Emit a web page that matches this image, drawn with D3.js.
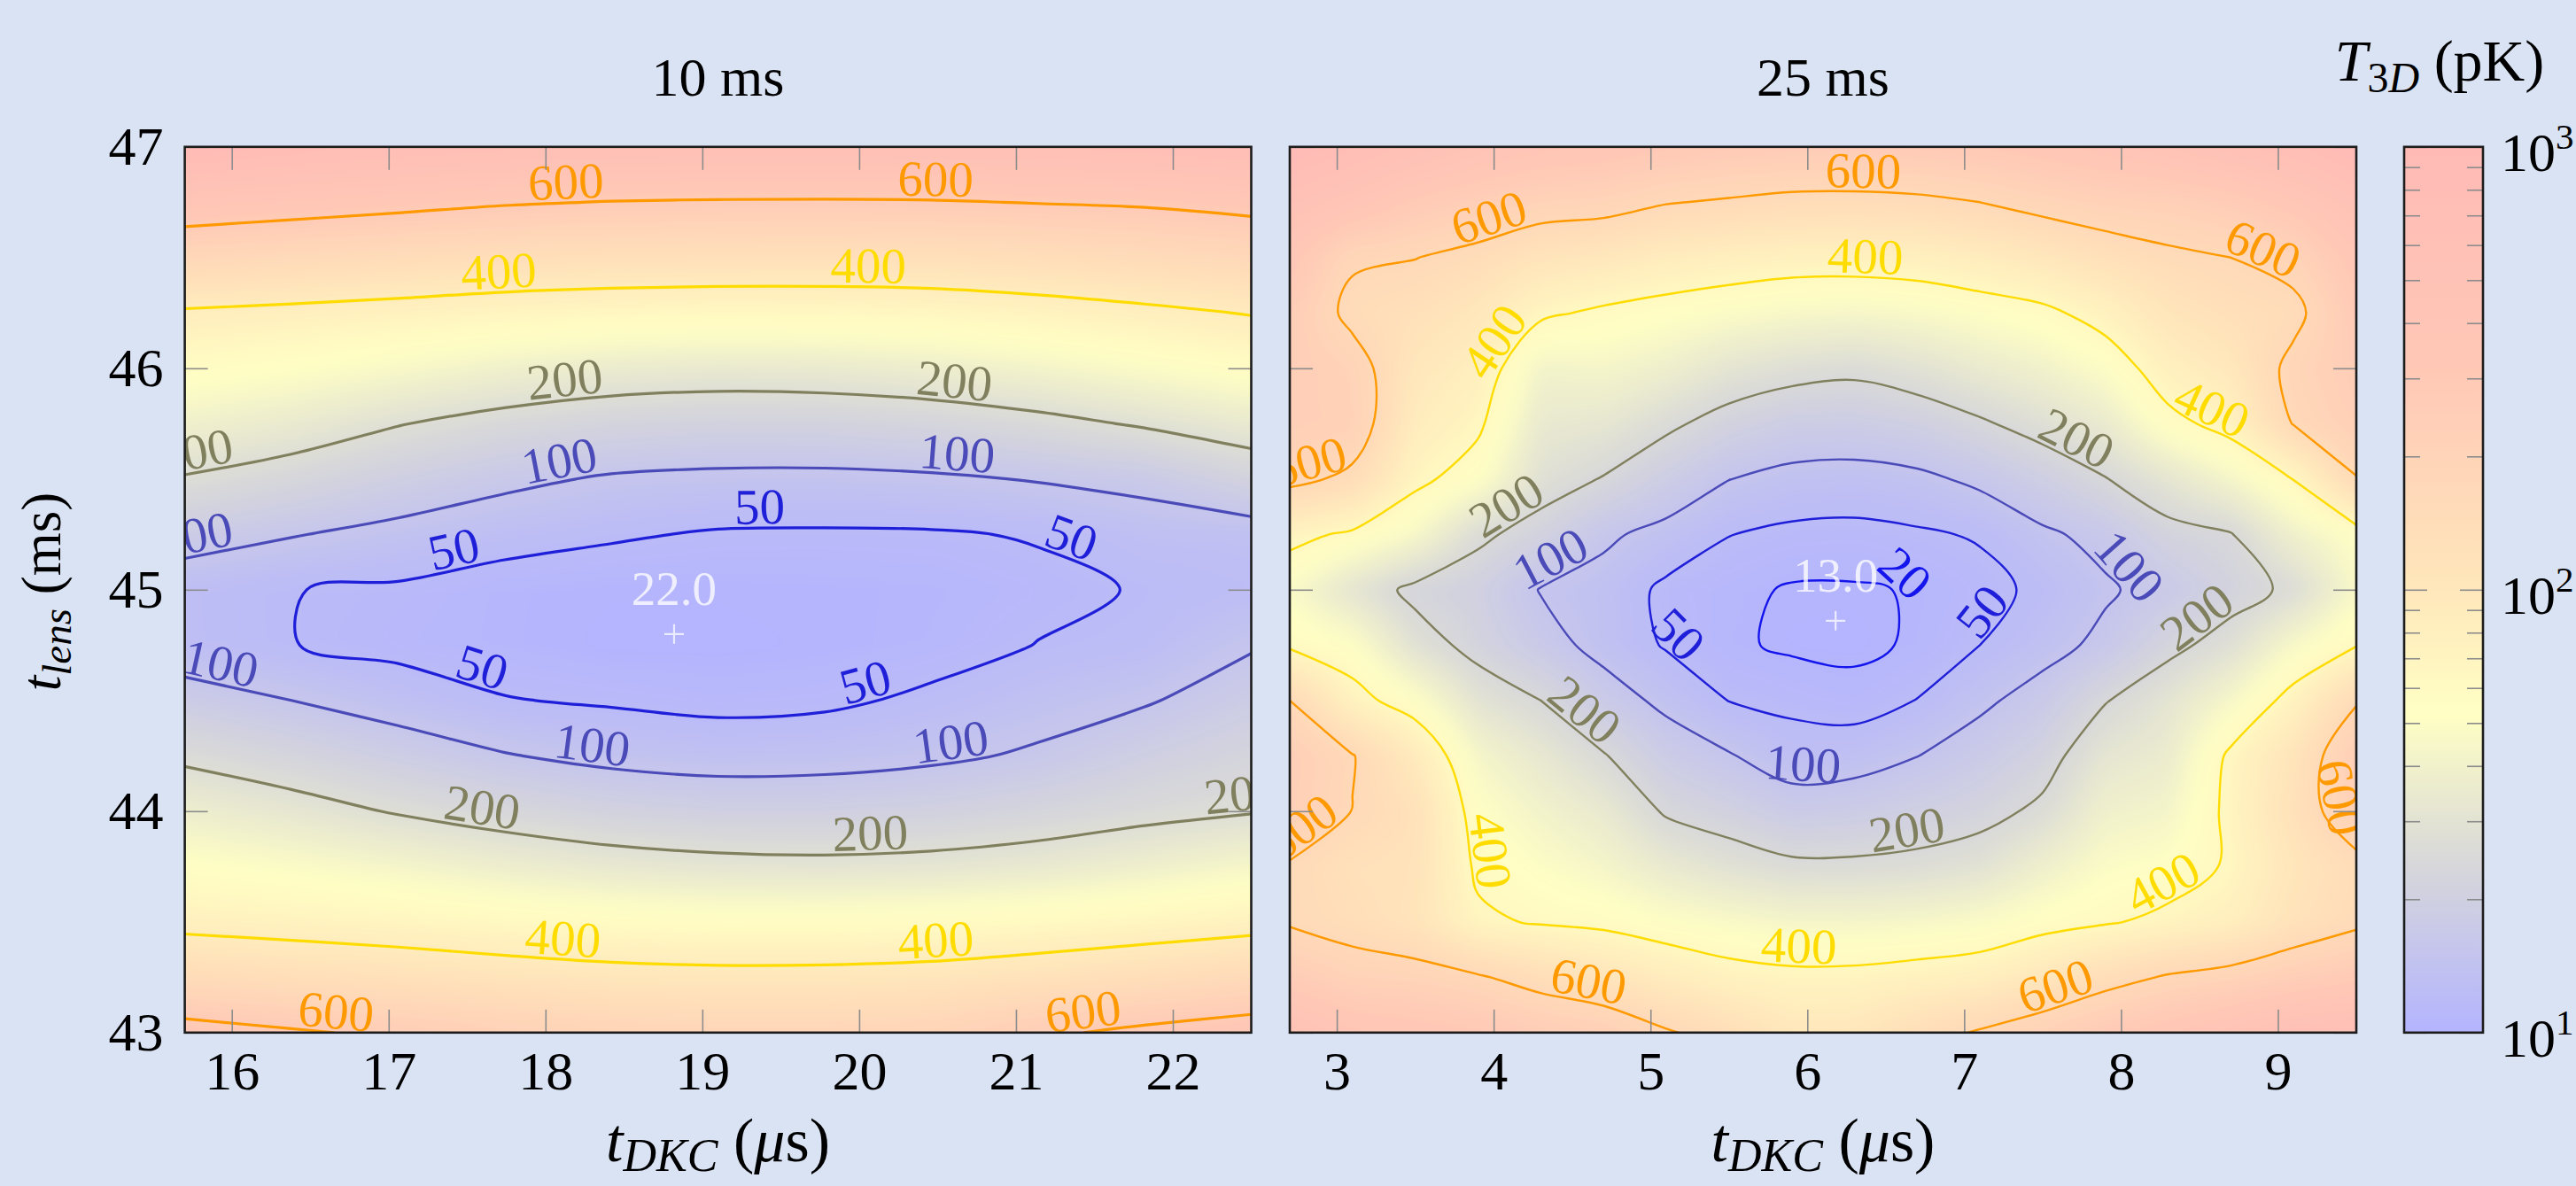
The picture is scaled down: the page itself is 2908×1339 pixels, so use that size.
<!DOCTYPE html>
<html>
<head>
<meta charset="utf-8">
<script src="https://cdn.jsdelivr.net/npm/d3@7"></script>
<style>
  html, body { margin: 0; padding: 0; background: #dae3f3; }
  svg { display: block; font-family: "Liberation Serif", "DejaVu Serif", serif; }
</style>
</head>
<body>
<svg id="chart" width="2908" height="1339"></svg>
<script>
// grid nodes, t_DKC (us) for each panel and t_lens (ms), rows from top to bottom
const dkc10 = [15.70, 16.38, 17.06, 17.74, 18.42, 19.10, 19.78, 20.46, 21.14, 21.82, 22.50];
const dkc25 = [2.7, 3.1, 3.5, 3.9, 4.3, 4.7, 5.1, 5.5, 5.9, 6.3, 6.7, 7.1, 7.5, 7.9, 8.3, 8.7, 9.1, 9.5];
const lens = [47.00, 46.75, 46.50, 46.25, 46.00, 45.75, 45.50, 45.25, 45.00, 44.75, 44.50, 44.25, 44.00, 43.75, 43.50, 43.25, 43.00];

// T_3D (pK), 10 ms
const temp10 = [
  [820, 790, 770, 755, 745, 740, 740, 745, 750, 760, 780],
  [663, 645, 627, 608, 597, 593, 592, 594, 603, 611, 630],
  [520, 503, 487, 473, 466, 462, 461, 464, 476, 494, 513],
  [390, 380, 369, 356, 347, 343, 344, 349, 363, 382, 404],
  [325, 309, 286, 260, 242, 235, 238, 250, 270, 295, 320],
  [260, 238, 203, 176, 158, 151, 153, 162, 181, 207, 237],
  [195, 169, 138, 112, 94, 88, 87, 92, 103, 115, 155],
  [127, 103, 84, 67, 55, 46, 45, 46, 53, 72, 74],
  [65, 51, 44, 30, 25, 25, 27, 30, 40, 53, 62],
  [66, 51, 38, 30, 22, 22, 25, 33, 51, 60, 95],
  [125, 100, 74, 52, 45, 38, 42, 58, 78, 95, 128],
  [188, 161, 131, 103, 85, 77, 80, 90, 107, 138, 162],
  [250, 225, 195, 170, 150, 139, 139, 146, 162, 181, 196],
  [312, 295, 274, 250, 231, 220, 216, 221, 233, 254, 279],
  [375, 365, 354, 339, 327, 320, 320, 325, 335, 351, 368],
  [489, 470, 455, 440, 427, 422, 423, 430, 449, 472, 498],
  [637, 610, 585, 560, 540, 530, 530, 540, 585, 620, 650]
];

// T_3D (pK), 25 ms
const temp25 = [
  [980, 930, 880, 820, 785, 770, 740, 720, 710, 710, 720, 735, 760, 790, 830, 880, 920, 980],
  [860, 800, 720, 680, 650, 640, 605, 590, 575, 573, 580, 600, 635, 660, 670, 700, 760, 850],
  [760, 615, 602, 570, 520, 500, 470, 454, 440, 440, 447, 470, 501, 545, 580, 600, 640, 760],
  [700, 570, 545, 500, 415, 385, 365, 345, 330, 324, 335, 356, 380, 435, 512, 550, 570, 720],
  [690, 650, 500, 455, 310, 320, 295, 253, 228, 216, 240, 275, 305, 350, 446, 497, 630, 700],
  [680, 665, 470, 415, 270, 260, 215, 170, 142, 141, 156, 190, 230, 275, 375, 430, 605, 680],
  [630, 575, 420, 360, 235, 196, 144, 101, 83, 78, 87, 112, 150, 197, 255, 320, 402, 595],
  [425, 385, 330, 215, 170, 110, 82, 51, 40, 38, 44, 54, 90, 118, 175, 196, 300, 360],
  [340, 250, 180, 160, 97, 80, 40, 28, 17, 17, 22, 36, 60, 92, 125, 170, 215, 330],
  [385, 355, 236, 175, 125, 80, 46, 25, 15, 13, 24, 50, 78, 115, 180, 230, 330, 395],
  [600, 430, 357, 245, 200, 130, 85, 49, 40, 31, 51, 88, 125, 196, 250, 325, 430, 590],
  [690, 605, 480, 320, 265, 205, 137, 104, 70, 75, 99, 130, 170, 255, 280, 415, 520, 690],
  [680, 598, 540, 360, 310, 270, 191, 164, 130, 137, 155, 175, 215, 300, 315, 420, 540, 670],
  [590, 540, 530, 385, 350, 320, 271, 238, 215, 214, 221, 240, 295, 345, 360, 410, 510, 570],
  [590, 560, 520, 415, 392, 380, 355, 336, 320, 318, 325, 340, 370, 392, 420, 450, 530, 580],
  [700, 650, 640, 610, 560, 515, 469, 433, 420, 422, 435, 450, 500, 560, 610, 640, 680, 720],
  [850, 780, 760, 740, 700, 680, 610, 560, 500, 505, 560, 610, 660, 720, 770, 820, 880, 900]
];

const levels = [20, 50, 100, 200, 400, 600];
const levelColors = ["#1414ec", "#1f1fd9", "#4a4ab8", "#80805e", "#ffdc00", "#ff9900"];

// contour labels: level, approximate t_DKC, t_lens
const labels10 = [
  [600, 18.12, 46.84], [600, 20.49, 46.86],
  [400, 17.70, 46.48], [400, 20.07, 46.48],
  [200, 15.76, 45.62], [200, 18.12, 46.00], [200, 20.60, 45.96],
  [100, 15.76, 45.27], [100, 18.09, 45.60], [100, 20.62, 45.64],
  [50, 17.41, 45.20], [50, 19.37, 45.40], [50, 21.37, 45.28],
  [50, 17.59, 44.62], [50, 20.05, 44.56],
  [100, 15.92, 44.64], [100, 18.29, 44.28], [100, 20.60, 44.28],
  [200, 17.59, 43.97], [200, 20.07, 43.89], [200, 22.45, 44.02],
  [400, 18.12, 43.41], [400, 20.49, 43.43],
  [600, 16.71, 43.10], [600, 21.37, 43.10]
];
const labels25 = [
  [600, 6.35, 46.90], [600, 3.96, 46.68], [600, 8.92, 46.58], [600, 2.82, 45.60],
  [400, 6.37, 46.53], [400, 4.04, 46.10], [400, 8.52, 45.72],
  [200, 4.07, 45.40], [200, 7.69, 45.66],
  [100, 4.33, 45.17], [100, 7.91, 45.01],
  [20, 6.62, 45.05],
  [50, 5.17, 44.81], [50, 7.13, 44.90],
  [100, 5.97, 44.24],
  [200, 4.57, 44.45], [200, 8.50, 44.86], [200, 6.64, 43.89],
  [400, 3.60, 43.79], [400, 5.95, 43.40], [400, 8.28, 43.64],
  [600, 4.59, 43.21], [600, 7.58, 43.21],
  [600, 2.74, 43.95], [600, 9.40, 44.06]
];

const minDkc = [18.82, 6.18];
const minLens = [44.80, 44.86];
const minTemp = [22.0, 13.0];

const titles = ["10 ms", "25 ms"];
const dkcTicks10 = [16, 17, 18, 19, 20, 21, 22];
const dkcTicks25 = [3, 4, 5, 6, 7, 8, 9];
const lensTicks = [43, 44, 45, 46, 47];
const cbarMajor = [10, 100, 1000];
const cbarExp = [1, 2, 3];
const cbarMinor = [20, 30, 40, 50, 60, 70, 80, 90, 200, 300, 400, 500, 600, 700, 800, 900];

const cmapStops = [0, 0.19, 0.36, 0.52, 0.75, 1];
const cmapColors = ["#b4b4ff", "#d7d7da", "#ffffc4", "#ffe4ba", "#ffc8b6", "#ffbab6"];

const svg = d3.select("#chart");
const plotTop = 165.8, plotBottom = 1165.8;
const fontSize = 62;
const y = d3.scaleLinear().domain([43, 47]).range([plotBottom, plotTop]);

const cmap = d3.scaleLinear().domain(cmapStops).range(cmapColors).interpolate(d3.interpolateRgb);
const lut = d3.range(1024).map(i => { const c = d3.rgb(cmap(i / 1023)); return [c.r, c.g, c.b]; });

svg.append("rect").attr("width", 2908).attr("height", 1339).attr("fill", "#dae3f3");
const defs = svg.append("defs");
defs.append("filter").attr("id", "soft")
  .attr("x", -0.05).attr("y", -0.05).attr("width", 1.1).attr("height", 1.1)
  .append("feGaussianBlur").attr("stdDeviation", 9);

function heatImage(xs, grid, x, left, right, pad) {
  const w = Math.round(right - left) + 2 * pad, h = Math.round(plotBottom - plotTop) + 2 * pad;
  const canvas = document.createElement("canvas");
  canvas.width = w; canvas.height = h;
  const ctx = canvas.getContext("2d");
  const img = ctx.createImageData(w, h);
  const n = xs.length, m = lens.length;
  const [lo, hi] = d3.extent(grid.flat());
  const stepX = xs[1] - xs[0], stepY = lens[0] - lens[1];
  let k = 0;
  for (let j = 0; j < h; j++) {
    const yv = y.invert(plotTop - pad + j + 0.5);
    const fj = Math.max(0, Math.min(m - 1, (lens[0] - yv) / stepY));
    const j0 = Math.min(m - 2, Math.floor(fj)), ty = fj - j0;
    const r0 = grid[j0], r1 = grid[j0 + 1];
    for (let i = 0; i < w; i++) {
      const xv = x.invert(left - pad + i + 0.5);
      const fi = Math.max(0, Math.min(n - 1, (xv - xs[0]) / stepX));
      const i0 = Math.min(n - 2, Math.floor(fi)), tx = fi - i0;
      const v = (1 - ty) * ((1 - tx) * r0[i0] + tx * r0[i0 + 1]) + ty * ((1 - tx) * r1[i0] + tx * r1[i0 + 1]);
      const c = lut[Math.max(0, Math.min(1023, Math.round((v - lo) / (hi - lo) * 1023)))];
      img.data[k++] = c[0]; img.data[k++] = c[1]; img.data[k++] = c[2]; img.data[k++] = 255;
    }
  }
  ctx.putImageData(img, 0, 0);
  return { url: canvas.toDataURL(), w, h };
}

// cut a contour ring where it runs along the outside of the grid
function splitRing(ring, n, m) {
  const eps = 1e-6;
  const inside = p => p[0] > eps && p[0] < n - eps && p[1] > eps && p[1] < m - eps;
  const pts = ring.slice(0, -1);
  const k = pts.findIndex(p => !inside(p));
  if (k < 0) return [{ closed: true, pts }];
  const arcs = [];
  let cur = [];
  for (let i = 1; i <= pts.length; i++) {
    const p = pts[(k + i) % pts.length];
    if (inside(p)) cur.push(p);
    else { if (cur.length > 1) arcs.push({ closed: false, pts: cur }); cur = []; }
  }
  if (cur.length > 1) arcs.push({ closed: false, pts: cur });
  return arcs;
}

const lineOpen = d3.line().curve(d3.curveCatmullRom.alpha(0.5));
const lineClosed = d3.line().curve(d3.curveCatmullRomClosed.alpha(0.5));

const panels = [
  { xs: dkc10, grid: temp10, labels: labels10, ticks: dkcTicks10, left: 208.6, right: 1412.5, lw: 3.2 },
  { xs: dkc25, grid: temp25, labels: labels25, ticks: dkcTicks25, left: 1456, right: 2660, lw: 2.4 }
];

function styleAxis(sel) {
  sel.select(".domain").remove();
  sel.attr("font-size", fontSize).attr("font-family", null);
  sel.selectAll(".tick line").attr("stroke", "#8c8c8c").attr("stroke-width", 1.6);
  sel.selectAll(".tick text").attr("fill", "#000");
}

panels.forEach((p, k) => {
  const x = d3.scaleLinear().domain([p.xs[0], p.xs[p.xs.length - 1]]).range([p.left, p.right]);
  const n = p.xs.length, m = lens.length;
  const stepX = p.xs[1] - p.xs[0], stepY = lens[0] - lens[1];

  defs.append("clipPath").attr("id", "clip" + k)
    .append("rect").attr("x", p.left).attr("y", plotTop)
    .attr("width", p.right - p.left).attr("height", plotBottom - plotTop);

  const g = svg.append("g");

  // shaded surface
  const pad = 40;
  const heat = heatImage(p.xs, p.grid, x, p.left, p.right, pad);
  g.append("g").attr("clip-path", `url(#clip${k})`)
    .append("image")
    .attr("x", p.left - pad).attr("y", plotTop - pad)
    .attr("width", heat.w).attr("height", heat.h)
    .attr("preserveAspectRatio", "none")
    .attr("href", heat.url)
    .attr("filter", "url(#soft)");

  // contour lines
  const toPx = pt => [x(p.xs[0] + (pt[0] - 0.5) * stepX), y(lens[0] - (pt[1] - 0.5) * stepY)];
  const contours = d3.contours().size([n, m]).thresholds(levels)(p.grid.flat());
  const cg = g.append("g").attr("clip-path", `url(#clip${k})`);
  contours.forEach(c => {
    const color = levelColors[levels.indexOf(c.value)];
    c.coordinates.forEach(poly => poly.forEach(ring => {
      splitRing(ring, n, m).forEach(arc => {
        const pts = arc.pts.map(toPx);
        cg.append("path")
          .attr("data-level", c.value)
          .attr("d", arc.closed ? lineClosed(pts) : lineOpen(pts))
          .attr("fill", "none")
          .attr("stroke", color)
          .attr("stroke-width", p.lw)
          .attr("stroke-linejoin", "round");
      });
    }));
  });

  // contour labels, sitting on their line
  const lg = g.append("g").attr("clip-path", `url(#clip${k})`);
  p.labels.forEach(([lev, lx, ly]) => {
    const ax = x(lx), ay = y(ly);
    let best = null;
    cg.selectAll(`path[data-level="${lev}"]`).each(function () {
      const L = this.getTotalLength();
      for (let s = 0; s <= L; s += 4) {
        const pt = this.getPointAtLength(s);
        const d2 = (pt.x - ax) ** 2 + (pt.y - ay) ** 2;
        if (!best || d2 < best.d2) best = { d2, node: this, s, L, pt };
      }
    });
    if (!best) return;
    const a = best.node.getPointAtLength(Math.max(0, best.s - 14));
    const b = best.node.getPointAtLength(Math.min(best.L, best.s + 14));
    let ang = Math.atan2(b.y - a.y, b.x - a.x) * 180 / Math.PI;
    if (ang >= 90) ang -= 180;
    if (ang < -90) ang += 180;
    lg.append("text")
      .attr("transform", `translate(${best.pt.x},${best.pt.y}) rotate(${ang})`)
      .attr("dy", -(p.lw / 2 + 3))
      .attr("text-anchor", "middle")
      .attr("font-size", 57)
      .attr("fill", levelColors[levels.indexOf(lev)])
      .text(lev);
  });

  // minimum marker
  const mx = x(minDkc[k]), my = y(minLens[k]);
  g.append("path")
    .attr("d", `M${mx - 11},${my}H${mx + 11}M${mx},${my - 11}V${my + 11}`)
    .attr("stroke", "#f6f6ff").attr("stroke-width", 2.2).attr("opacity", 0.85);
  g.append("text")
    .attr("x", mx).attr("y", my - 33)
    .attr("text-anchor", "middle")
    .attr("font-size", 55)
    .attr("fill", "#ffffff").attr("opacity", 0.78)
    .text(d3.format(".1f")(minTemp[k]));

  // ticks inside the frame
  g.append("g").attr("transform", `translate(0,${plotBottom})`)
    .call(d3.axisBottom(x).tickValues(p.ticks).tickSizeInner(-26).tickSizeOuter(0)
      .tickPadding(20).tickFormat(d3.format("d")))
    .call(styleAxis);
  g.append("g").attr("transform", `translate(0,${plotTop})`)
    .call(d3.axisTop(x).tickValues(p.ticks).tickSizeInner(-26).tickSizeOuter(0).tickFormat(""))
    .call(styleAxis);
  g.append("g").attr("transform", `translate(${p.left},0)`)
    .call(d3.axisLeft(y).tickValues(lensTicks).tickSizeInner(-26).tickSizeOuter(0)
      .tickPadding(24).tickFormat(k === 0 ? d3.format("d") : ""))
    .call(styleAxis);
  g.append("g").attr("transform", `translate(${p.right},0)`)
    .call(d3.axisRight(y).tickValues(lensTicks).tickSizeInner(-26).tickSizeOuter(0).tickFormat(""))
    .call(styleAxis);

  g.append("rect")
    .attr("x", p.left).attr("y", plotTop)
    .attr("width", p.right - p.left).attr("height", plotBottom - plotTop)
    .attr("fill", "none").attr("stroke", "#1c1c1c").attr("stroke-width", 2.6);

  const cx = (p.left + p.right) / 2;
  svg.append("text").attr("x", cx).attr("y", 108)
    .attr("text-anchor", "middle").attr("font-size", fontSize)
    .text(titles[k]);

  const xl = svg.append("text").attr("x", cx).attr("y", 1311)
    .attr("text-anchor", "middle").attr("font-size", 70);
  xl.append("tspan").attr("font-style", "italic").text("t");
  xl.append("tspan").attr("font-style", "italic").attr("font-size", 52).attr("dy", 11).text("DKC");
  xl.append("tspan").attr("dy", -11).text(" (");
  xl.append("tspan").attr("font-style", "italic").text("\u03bc");
  xl.append("tspan").text("s)");
});

// y axis title
const yl = svg.append("text")
  .attr("transform", "translate(68,668) rotate(-90)")
  .attr("text-anchor", "middle").attr("font-size", 63);
yl.append("tspan").attr("font-style", "italic").text("t");
yl.append("tspan").attr("font-style", "italic").attr("font-size", 47).attr("dy", 12).text("lens");
yl.append("tspan").attr("dy", -12).text(" (ms)");

// colour bar
const cbLeft = 2714, cbRight = 2803;
const cb = d3.scaleLog().domain([10, 1000]).range([plotBottom, plotTop]);
const grad = defs.append("linearGradient").attr("id", "cbar")
  .attr("x1", 0).attr("y1", 1).attr("x2", 0).attr("y2", 0);
cmapStops.forEach((s, i) => grad.append("stop").attr("offset", s).attr("stop-color", cmapColors[i]));
svg.append("rect").attr("x", cbLeft).attr("y", plotTop)
  .attr("width", cbRight - cbLeft).attr("height", plotBottom - plotTop)
  .attr("fill", "url(#cbar)");
[[cbarMinor, 18], [cbarMajor, 26]].forEach(([vals, len]) => {
  svg.append("g").attr("transform", `translate(${cbLeft},0)`)
    .call(d3.axisRight(cb).tickValues(vals).tickSize(len).tickFormat(""))
    .call(styleAxis);
  svg.append("g").attr("transform", `translate(${cbRight},0)`)
    .call(d3.axisLeft(cb).tickValues(vals).tickSize(len).tickFormat(""))
    .call(styleAxis);
});
svg.append("rect").attr("x", cbLeft).attr("y", plotTop)
  .attr("width", cbRight - cbLeft).attr("height", plotBottom - plotTop)
  .attr("fill", "none").attr("stroke", "#1c1c1c").attr("stroke-width", 2.6);

cbarMajor.forEach((v, i) => {
  const t = svg.append("text").attr("x", cbRight + 20).attr("y", cb(v) + 27).attr("font-size", fontSize);
  t.append("tspan").text("10");
  t.append("tspan").attr("font-size", 41).attr("dy", -25).text(cbarExp[i]);
});

const ct = svg.append("text").attr("x", 2754).attr("y", 91)
  .attr("text-anchor", "middle").attr("font-size", 66);
ct.append("tspan").attr("font-style", "italic").text("T");
ct.append("tspan").attr("font-size", 48).attr("dy", 13).text("3");
ct.append("tspan").attr("font-size", 48).attr("font-style", "italic").text("D");
ct.append("tspan").attr("dy", -13).text(" (pK)");
</script>
</body>
</html>
